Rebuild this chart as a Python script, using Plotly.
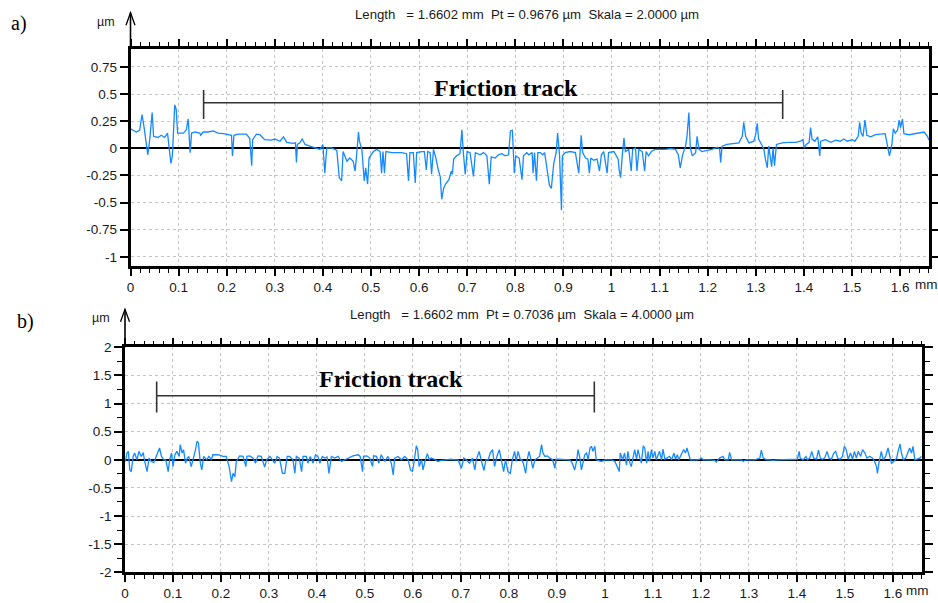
import plotly.graph_objects as go

W, H = 938, 603

# ---------------- data ----------------
a_x = [0, 0.005, 0.012, 0.019, 0.024, 0.028, 0.033, 0.036, 0.04, 0.045, 0.048, 0.057, 0.064, 0.071, 0.077,
       0.081, 0.084, 0.087, 0.089, 0.092, 0.095, 0.098, 0.11, 0.116, 0.12, 0.122, 0.124, 0.127, 0.134, 0.144,
       0.146, 0.151, 0.161, 0.172, 0.182, 0.193, 0.203, 0.21, 0.212, 0.215, 0.224, 0.241, 0.248, 0.252, 0.254,
       0.262, 0.269, 0.279, 0.293, 0.3, 0.311, 0.318, 0.325, 0.338, 0.343, 0.345, 0.347, 0.352, 0.357, 0.363,
       0.373, 0.383, 0.394, 0.4, 0.404, 0.408, 0.418, 0.429, 0.434, 0.439, 0.442, 0.45, 0.456, 0.463, 0.467,
       0.47, 0.474, 0.476, 0.481, 0.486, 0.489, 0.493, 0.496, 0.505, 0.512, 0.519, 0.522, 0.525, 0.528, 0.531,
       0.543, 0.557, 0.564, 0.574, 0.578, 0.581, 0.588, 0.592, 0.595, 0.606, 0.611, 0.615, 0.618, 0.623, 0.626,
       0.63, 0.635, 0.64, 0.644, 0.647, 0.651, 0.655, 0.662, 0.667, 0.669, 0.672, 0.678, 0.685, 0.689, 0.692,
       0.696, 0.7, 0.706, 0.713, 0.717, 0.727, 0.734, 0.741, 0.746, 0.75, 0.758, 0.765, 0.772, 0.779, 0.786,
       0.79, 0.794, 0.798, 0.801, 0.808, 0.814, 0.817, 0.824,
       0.828, 0.835, 0.837, 0.84, 0.844, 0.847, 0.852, 0.857, 0.861, 0.866, 0.871, 0.875, 0.88, 0.885, 0.888,
       0.892, 0.894, 0.896, 0.898, 0.904, 0.914, 0.925, 0.932, 0.935, 0.937, 0.94, 0.946, 0.951, 0.954, 0.957,
       0.963, 0.97, 0.975, 0.979, 0.984, 0.991, 0.994, 1.005, 1.014, 1.016, 1.019, 1.023, 1.026, 1.029, 1.036,
       1.041, 1.044, 1.05, 1.053, 1.057, 1.064, 1.069, 1.072, 1.077, 1.083, 1.091, 1.102, 1.112, 1.123, 1.133,
       1.139, 1.143, 1.148, 1.154, 1.157, 1.161, 1.164, 1.168, 1.175, 1.178, 1.182, 1.188, 1.199, 1.209, 1.22,
       1.225, 1.227, 1.23, 1.24, 1.254, 1.265, 1.272, 1.275, 1.279, 1.286, 1.296, 1.3, 1.303, 1.306, 1.312,
       1.317, 1.32, 1.324, 1.327, 1.333, 1.336, 1.339, 1.343, 1.355, 1.369, 1.383, 1.393, 1.398, 1.401, 1.405,
       1.411, 1.414, 1.417, 1.423, 1.429, 1.433, 1.435, 1.445, 1.456, 1.466, 1.476, 1.483, 1.49, 1.501, 1.506,
       1.513, 1.516, 1.519, 1.523, 1.527, 1.531, 1.539, 1.549, 1.56, 1.569, 1.572, 1.576, 1.578, 1.583, 1.586,
       1.59, 1.595, 1.598, 1.601, 1.605, 1.608, 1.619, 1.629, 1.64, 1.65, 1.657, 1.66]
a_y = [0.18, 0.17, 0.15, 0.165, 0.31, 0.20, 0.02, -0.06, 0.08, 0.33, 0.11, 0.10, 0.12, 0.10, 0.14,
       -0.01, -0.14, -0.07, 0.14, 0.40, 0.36, 0.14, 0.14, 0.17, 0.27, 0.14, -0.04, 0.14, 0.15, 0.14,
       0.12, 0.15, 0.15, 0.16, 0.14, 0.135, 0.13, 0.12, -0.07, 0.12, 0.13, 0.13, 0.09, -0.16, 0.08,
       0.13, 0.125, 0.08, 0.075, 0.085, 0.065, 0.105, 0.055, 0.045, 0.05, -0.13, 0.035, 0.05, 0.085, 0.035,
       0.02, 0.003, -0.01, 0.035, -0.23, 0.003, 0.003, -0.02, -0.27, -0.30, -0.03, -0.12, -0.09, -0.12, -0.21,
       -0.07, 0.15, 0.065, -0.01, -0.30, -0.18, -0.33, -0.09, -0.03, -0.01, -0.03, -0.23, -0.03, -0.23, -0.03,
       -0.04, -0.04, -0.04, -0.05, -0.30, -0.04, -0.04, -0.32, -0.04, -0.03, -0.03, -0.20, -0.03, -0.04, -0.24,
       -0.01, -0.09, -0.20, -0.26, -0.47, -0.37, -0.33, -0.29, -0.21, -0.24, -0.10, -0.07, -0.05, 0.17, -0.04,
       -0.24, -0.03, -0.04, -0.26, -0.04, -0.06, -0.04, -0.07, -0.33, -0.08, -0.09, -0.06, -0.05, -0.07, -0.06,
       0.16, 0.165, -0.23, -0.07, -0.09, -0.29, -0.07, -0.04,
       -0.06, -0.04, -0.23, -0.04, -0.30, -0.04, -0.04, -0.06, -0.04, -0.20, -0.34, -0.37, -0.14, -0.04, 0.14,
       -0.06, -0.35, -0.57, -0.07, -0.04, -0.03, -0.04, -0.23, -0.04, 0.12, -0.04, -0.09, -0.10, -0.23, -0.09,
       -0.11, -0.10, -0.21, -0.06, -0.03, -0.23, -0.04, -0.03, -0.10, -0.20, -0.27, -0.04, 0.095, -0.03, -0.01,
       -0.21, -0.01, 0.003, -0.21, -0.01, -0.03, -0.21, -0.03, -0.07, -0.03, -0.01, -0.01, -0.01, -0.003, -0.01,
       -0.06, -0.18, -0.06, 0.02, 0.11, 0.33, 0.003, -0.07, -0.04, 0.11, -0.01, -0.03, -0.02, -0.01, 0.01,
       -0.01, -0.13, 0.02, 0.035, 0.045, 0.05, 0.11, 0.24, 0.11, 0.05, 0.065, 0.13, 0.23, 0.085, 0.035,
       -0.01, -0.10, -0.18, 0.02, -0.17, 0.003, -0.16, 0.035, 0.05, 0.055, 0.055, 0.065, 0.08, 0.003, 0.035,
       0.055, 0.19, 0.085, 0.065, 0.105, -0.07, 0.065, 0.08, 0.055, 0.075, 0.065, 0.085, 0.065, 0.08, 0.065,
       0.11, 0.24, 0.14, 0.11, 0.26, 0.12, 0.105, 0.125, 0.13, 0.135, 0.065, -0.03, -0.07, 0.035, 0.18,
       0.14, 0.17, 0.26, 0.19, 0.27, 0.135, 0.125, 0.135, 0.14, 0.15, 0.11, 0.075]

b_x = [0, 0.001, 0.004, 0.007, 0.01, 0.013, 0.017, 0.02, 0.025, 0.029, 0.034, 0.038, 0.041, 0.046, 0.05,
       0.055, 0.06, 0.065, 0.069, 0.072, 0.076, 0.081, 0.085, 0.09, 0.093, 0.097, 0.1, 0.104, 0.108, 0.113,
       0.115, 0.119, 0.122, 0.126, 0.13, 0.133, 0.138, 0.142, 0.147, 0.15, 0.153, 0.157, 0.16, 0.164, 0.17,
       0.175, 0.18, 0.183, 0.194, 0.204, 0.211, 0.217, 0.22, 0.222, 0.225, 0.229, 0.232, 0.239, 0.246, 0.252,
       0.254, 0.26, 0.267, 0.272, 0.277, 0.284, 0.291, 0.295, 0.302, 0.307, 0.312, 0.317, 0.322, 0.328, 0.333,
       0.338, 0.343, 0.35, 0.354, 0.357, 0.363, 0.368, 0.371, 0.378, 0.381, 0.386, 0.392, 0.397, 0.402, 0.406,
       0.411, 0.416, 0.421, 0.425, 0.43, 0.437, 0.444, 0.451, 0.458, 0.468, 0.475, 0.486, 0.49, 0.495, 0.497,
       0.504, 0.51, 0.516, 0.518, 0.524, 0.529, 0.534, 0.541, 0.548, 0.555, 0.559, 0.562, 0.569, 0.576, 0.583,
       0.59, 0.595, 0.599, 0.603, 0.607, 0.61, 0.613, 0.618, 0.621, 0.625, 0.63, 0.634, 0.638, 0.645, 0.652,
       0.659, 0.666, 0.673, 0.68, 0.687, 0.694, 0.701, 0.706, 0.711, 0.718, 0.724, 0.729, 0.732, 0.738, 0.743,
       0.748, 0.752, 0.757, 0.761, 0.766, 0.77, 0.775, 0.78, 0.784, 0.789, 0.793, 0.798, 0.803, 0.807, 0.812,
       0.815, 0.819, 0.824, 0.827,
       0.83, 0.835, 0.838, 0.842, 0.845, 0.85, 0.854, 0.859, 0.864, 0.868, 0.871, 0.875, 0.88, 0.885, 0.891,
       0.896, 0.898, 0.903, 0.912, 0.927, 0.932, 0.937, 0.941, 0.944, 0.948, 0.951, 0.955, 0.958, 0.962, 0.965,
       0.969, 0.972, 0.975, 0.979, 0.982, 0.986, 0.993, 1.0, 1.007, 1.014, 1.021, 1.026, 1.03, 1.032, 1.037,
       1.041, 1.045, 1.048, 1.052, 1.055, 1.059, 1.062, 1.066, 1.069, 1.073, 1.076, 1.08, 1.083, 1.087, 1.09,
       1.093, 1.097, 1.1, 1.104, 1.107, 1.111, 1.114, 1.118, 1.121, 1.125, 1.13, 1.135, 1.139, 1.144, 1.147,
       1.151, 1.154, 1.157, 1.161, 1.164, 1.168, 1.171, 1.175, 1.178, 1.191, 1.198, 1.201, 1.205, 1.219, 1.229,
       1.232, 1.239, 1.246, 1.25, 1.257, 1.26, 1.264, 1.274, 1.285, 1.288, 1.294, 1.302, 1.312, 1.323, 1.326,
       1.33, 1.337, 1.344, 1.351, 1.358, 1.364, 1.371, 1.382, 1.392, 1.401, 1.405, 1.407, 1.413, 1.419, 1.422,
       1.427, 1.431, 1.435, 1.441, 1.445, 1.449, 1.453, 1.458, 1.463, 1.467, 1.472, 1.477, 1.481, 1.485, 1.49,
       1.495, 1.499, 1.503, 1.507, 1.512, 1.516, 1.52, 1.524, 1.528, 1.533, 1.537, 1.542, 1.546, 1.552, 1.558,
       1.562, 1.566, 1.568, 1.571, 1.576, 1.58, 1.585, 1.59, 1.594, 1.597, 1.602, 1.608, 1.611, 1.615, 1.618,
       1.622, 1.627, 1.632, 1.635, 1.639, 1.642, 1.646, 1.649, 1.656, 1.66]
b_y = [0, -0.03, 0.12, 0.15, -0.18, -0.21, 0.06, 0.12, 0, 0.15, 0.06, 0.13, -0.03, -0.21, 0.03,
       -0.03, -0.05, 0.06, 0.12, 0.21, 0.06, 0, 0, -0.21, 0, 0.12, -0.12, 0.09, 0.15, 0.06,
       0.27, 0.12, 0.18, -0.06, 0.03, 0.06, -0.12, 0, 0.18, 0.33, 0.30, -0.06, -0.18, 0.06, 0,
       0.06, 0, 0.09, 0.09, 0.06, 0.06, -0.12, -0.30, -0.39, -0.24, -0.30, -0.03, 0.07, 0.06, -0.12,
       0.06, 0.07, 0.03, -0.06, 0.07, 0.06, -0.13, 0, 0.06, 0, -0.06, 0.06, 0.03, -0.24, -0.24,
       0.06, 0.06, 0, -0.24, 0.06, 0.03, -0.21, 0.06, 0.06, -0.06, 0.06, -0.06, 0.09, 0.06, -0.06,
       0.06, 0.03, 0.05, -0.24, 0.06, 0.03, 0.06, -0.03, 0, 0.05, 0.07, 0.09, 0.06, -0.21, 0.06,
       0.07, 0.03, -0.12, 0.07, 0.06, -0.06, 0.09, -0.03, 0.06, -0.06, -0.27, 0.03, 0.06, 0, 0.06,
       0, -0.18, -0.21, 0, 0.25, 0.18, -0.12, 0, -0.18, -0.03, 0.11, 0, 0.03, 0.01, -0.03,
       -0.01, 0, 0, 0.01, 0, 0, -0.15, 0.03, 0, -0.06, 0.03, -0.18, 0, 0.15, -0.03,
       -0.19, 0, 0, 0.12, 0.18, -0.12, 0.06, 0.18, -0.03, -0.21, 0, -0.21, -0.24, 0, 0.15,
       -0.03, 0.15, 0, 0,
       -0.06, -0.24, 0, 0.15, 0.01, -0.15, 0, 0.03, 0.06, 0.27, 0.12, 0.06, 0.07, 0.03, 0,
       -0.15, 0.01, 0.01, 0.01, 0, -0.06, -0.18, -0.03, 0.18, 0.03, -0.18, -0.03, 0.09, 0.12, 0,
       0.21, 0.24, 0.15, 0.24, 0, -0.01, -0.03, 0, 0, 0, -0.03, -0.12, -0.21, 0.12, 0,
       0.12, -0.09, 0.15, -0.06, -0.12, 0.03, 0.18, 0.01, 0.18, 0.03, -0.06, 0.25, 0.21, -0.06, 0.15,
       -0.03, 0.18, 0.03, 0.15, 0, 0.07, 0.15, 0, 0.19, 0.01, 0.03, 0.06, 0, 0.12, 0.01,
       0.09, 0, 0.06, 0.15, 0.18, 0.12, 0.21, 0.09, 0, 0, 0.01, 0.03, 0, 0, -0.01,
       -0.04, 0.03, 0.06, 0, 0, 0.13, 0, 0, 0, -0.03, 0, 0, 0, 0.03, 0.17,
       0.03, 0, 0, -0.01, 0, 0, 0, 0, 0, 0.01, 0.15, 0.03, 0, 0.06, 0,
       0.03, 0.15, 0.03, 0.01, 0.17, 0.03, 0.01, 0.03, 0.15, 0.03, 0.01, 0.12, 0.15, 0.03, 0.01,
       0.06, 0.24, 0.18, 0.01, 0.12, 0.01, 0.15, 0.03, 0.15, 0.06, 0.18, 0.12, 0.03, 0.06, 0.03,
       -0.03, -0.12, -0.24, -0.06, 0.15, 0, 0.06, 0.21, 0.06, -0.06, -0.03, 0.03, 0.15, 0.28, 0.12,
       0, 0.03, 0.15, 0.21, 0.12, 0.24, 0, 0.01, 0.03, 0.06]

x_ticks = [0, 0.1, 0.2, 0.3, 0.4, 0.5, 0.6, 0.7, 0.8, 0.9, 1, 1.1, 1.2, 1.3, 1.4, 1.5, 1.6]
x_ticklabels = ["0", "0.1", "0.2", "0.3", "0.4", "0.5", "0.6", "0.7", "0.8", "0.9",
                "1", "1.1", "1.2", "1.3", "1.4", "1.5", "1.6"]
ya_ticks = [-1, -0.75, -0.5, -0.25, 0, 0.25, 0.5, 0.75]
ya_ticklabels = ["-1", "-0.75", "-0.5", "-0.25", "0", "0.25", "0.5", "0.75"]
yb_ticks = [-2, -1.5, -1, -0.5, 0, 0.5, 1, 1.5, 2]
yb_ticklabels = ["-2", "-1.5", "-1", "-0.5", "0", "0.5", "1", "1.5", "2"]

length_mm = 1.6602
track_a = [0.152, 1.356]
track_b = [0.066, 0.978]
header_a = "Length\u00a0\u00a0\u00a0= 1.6602 mm\u00a0\u00a0Pt = 0.9676 µm\u00a0\u00a0Skala = 2.0000 µm"
header_b = "Length\u00a0\u00a0\u00a0= 1.6602 mm\u00a0\u00a0Pt = 0.7036 µm\u00a0\u00a0Skala = 4.0000 µm"

# ---------------- layout geometry (pixels) ----------------
box_a = dict(l=130.5, r=929, t=49, b=266)
box_b = dict(l=125, r=921.7, t=347.3, b=572.3)


def dom_x(b):
    return [b["l"] / W, b["r"] / W]


def dom_y(b):
    return [1 - b["b"] / H, 1 - b["t"] / H]


def px(x):
    return x / W


def py(y):
    return 1 - y / H


BLUE = "#1589ff"
FONT = "Liberation Sans, Arial, sans-serif"
SERIF = "Liberation Serif, Times New Roman, serif"
TXT = "#1a1a1a"

fig = go.Figure()
fig.add_trace(go.Scatter(x=a_x, y=a_y, mode="lines", line=dict(color=BLUE, width=1.3),
                         xaxis="x", yaxis="y", showlegend=False, hoverinfo="skip"))
fig.add_trace(go.Scatter(x=b_x, y=b_y, mode="lines", line=dict(color=BLUE, width=1.3),
                         xaxis="x2", yaxis="y2", showlegend=False, hoverinfo="skip"))

common_x = dict(range=[0, length_mm], tickmode="array", tickvals=x_ticks, ticktext=x_ticklabels,
                showgrid=True, gridcolor="#c4c4c4", griddash="dot", gridwidth=1,
                showline=True, linecolor="black", linewidth=2.6, mirror="ticks",
                ticks="outside", ticklen=7, tickwidth=1.5, tickcolor="black",
                minor=dict(dtick=0.02, tick0=0, ticks="outside", ticklen=4, tickwidth=1.3,
                           tickcolor="black", showgrid=False),
                zeroline=False, automargin=False,
                tickfont=dict(family=FONT, size=13.5, color=TXT))

common_y = dict(tickmode="array", showgrid=True, gridcolor="#c4c4c4", griddash="dot", gridwidth=1,
                showline=True, linecolor="black", linewidth=2.6, mirror="ticks",
                ticks="outside", ticklen=8, tickwidth=1.5, tickcolor="black",
                zeroline=True, zerolinecolor="black", zerolinewidth=1.6, automargin=False,
                tickfont=dict(family=FONT, size=13.5, color=TXT))

fig.update_layout(
    width=W, height=H, margin=dict(l=0, r=0, t=0, b=0, autoexpand=False),
    paper_bgcolor="white", plot_bgcolor="white",
    xaxis=dict(domain=dom_x(box_a), anchor="y", **common_x),
    yaxis=dict(domain=dom_y(box_a), anchor="x", range=[-1.085, 0.915],
               tickvals=ya_ticks, ticktext=ya_ticklabels, **common_y),
    xaxis2=dict(domain=dom_x(box_b), anchor="y2", **common_x),
    yaxis2=dict(domain=dom_y(box_b), anchor="x2", range=[-2, 2],
                tickvals=yb_ticks, ticktext=yb_ticklabels,
                minor=dict(dtick=0.25, tick0=0, ticks="outside", ticklen=5, tickwidth=1.3,
                           tickcolor="black", showgrid=False),
                **common_y),
)

shapes = []
# y-axis arrows above the plots
for b, tip in ((box_a, 12.7), (box_b, 309.3)):
    x0 = b["l"]
    shapes.append(dict(type="line", xref="paper", yref="paper", x0=px(x0), x1=px(x0),
                       y0=py(b["t"]), y1=py(tip), line=dict(color="black", width=1.6)))
    shapes.append(dict(type="path", xref="paper", yref="paper",
                       path=f"M {px(x0 - 4.5)},{py(tip + 12.5)} L {px(x0)},{py(tip)} L {px(x0 + 4.5)},{py(tip + 12.5)}",
                       line=dict(color="black", width=1.3)))

# friction-track brackets
for (xa, ya), (t0, t1), yl, (lo, hi) in (
        (("x", "y"), track_a, 0.42, (0.27, 0.537)),
        (("x2", "y2"), track_b, 1.138, (0.84, 1.39))):
    shapes.append(dict(type="line", xref=xa, yref=ya, x0=t0, x1=t1, y0=yl, y1=yl,
                       line=dict(color="#333", width=1.4)))
    for t in (t0, t1):
        shapes.append(dict(type="line", xref=xa, yref=ya, x0=t, x1=t, y0=lo, y1=hi,
                           line=dict(color="#333", width=1.6)))

fig.update_layout(shapes=shapes)

ann = []
ann.append(dict(text=header_a, xref="paper", yref="paper", x=px(527), y=py(15), showarrow=False,
                font=dict(family=FONT, size=13.2, color=TXT), xanchor="center", yanchor="middle"))
ann.append(dict(text=header_b, xref="paper", yref="paper", x=px(521.7), y=py(314), showarrow=False,
                font=dict(family=FONT, size=13.2, color=TXT), xanchor="center", yanchor="middle"))
ann.append(dict(text="µm", xref="paper", yref="paper", x=px(117), y=py(21.5), showarrow=False,
                font=dict(family=FONT, size=12.5, color=TXT), xanchor="right", yanchor="middle"))
ann.append(dict(text="µm", xref="paper", yref="paper", x=px(112), y=py(318), showarrow=False,
                font=dict(family=FONT, size=12.5, color=TXT), xanchor="right", yanchor="middle"))
ann.append(dict(text="a)", xref="paper", yref="paper", x=px(9), y=py(23), showarrow=False,
                font=dict(family=SERIF, size=20, color="black"), xanchor="left", yanchor="middle"))
ann.append(dict(text="b)", xref="paper", yref="paper", x=px(15), y=py(321), showarrow=False,
                font=dict(family=SERIF, size=20, color="black"), xanchor="left", yanchor="middle"))
ann.append(dict(text="<b>Friction track</b>", xref="x", yref="y", x=0.78, y=0.556, showarrow=False,
                font=dict(family=SERIF, size=24, color="black"), xanchor="center", yanchor="middle"))
ann.append(dict(text="<b>Friction track</b>", xref="x2", yref="y2", x=0.555, y=1.44, showarrow=False,
                font=dict(family=SERIF, size=24, color="black"), xanchor="center", yanchor="middle"))
ann.append(dict(text="mm", xref="x", yref="y domain", x=1.6, y=0, xshift=13, yshift=-9,
                showarrow=False, font=dict(family=FONT, size=13.5, color=TXT),
                xanchor="left", yanchor="top"))
ann.append(dict(text="mm", xref="x2", yref="y2 domain", x=1.6, y=0, xshift=11, yshift=-9,
                showarrow=False, font=dict(family=FONT, size=13.5, color=TXT),
                xanchor="left", yanchor="top"))
fig.update_layout(annotations=ann)

fig.write_html("out.html")
